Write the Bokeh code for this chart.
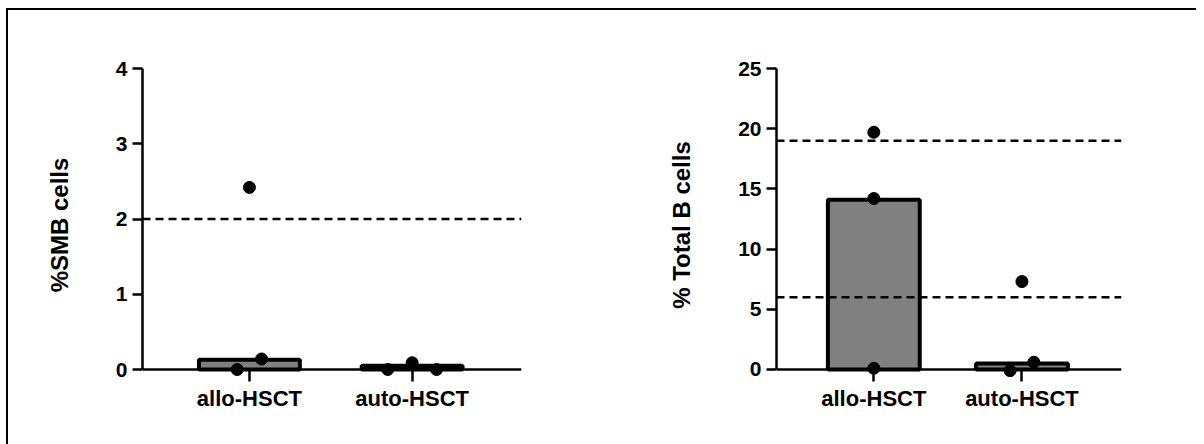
from bokeh.plotting import figure
from bokeh.models import Range1d, FixedTicker, Span
from bokeh.layouts import row
from bokeh.embed import file_html
from bokeh.resources import INLINE

categories = ["allo-HSCT", "auto-HSCT"]

# Panel 1: %SMB cells
smb_bars = [0.13, 0.05]
smb_allo_pts = [2.42, 0.14, 0.0]
smb_auto_pts = [0.0, 0.09, 0.0]
smb_ref = [2.0]
smb_ticks = [0, 1, 2, 3, 4]

# Panel 2: % Total B cells
tb_bars = [14.1, 0.5]
tb_allo_pts = [19.7, 14.2, 0.1]
tb_auto_pts = [7.3, 0.6, -0.1]
tb_ref = [19.0, 6.0]
tb_ticks = [0, 5, 10, 15, 20, 25]

# horizontal jitter of the points (positions, in category units)
jit_smb_allo = [0.0, 0.075, -0.075]
jit_smb_auto = [-0.15, 0.0, 0.15]
jit_tb_allo = [0.0, 0.0, 0.0]
jit_tb_auto = [0.0, 0.08, -0.08]

FONT = "Liberation Sans"


def make_panel(width, border_left, border_right, y_range, ticks, ylabel,
               bars, pts_list, jit_list, refs):
    p = figure(width=width, height=434, output_backend="svg", toolbar_location=None,
               x_range=Range1d(0.343, 2.672), y_range=y_range,
               min_border_left=border_left, min_border_right=border_right,
               min_border_top=58, min_border_bottom=63)
    p.outline_line_color = None
    p.grid.visible = False
    p.background_fill_color = "white"
    p.border_fill_color = "white"

    xs = [i + 1 for i in range(len(categories))]
    p.vbar(x=xs, top=bars, bottom=0, width=0.62, fill_color="#808080",
           line_color="black", line_width=4)
    for i, (pts, jit) in enumerate(zip(pts_list, jit_list)):
        px = [xs[i] + j for j in jit]
        p.scatter(px, pts, size=12, color="black")
    # baseline at zero
    p.add_layout(Span(location=0, dimension="width", line_color="black", line_width=2.5))
    for r in refs:
        p.add_layout(Span(location=r, dimension="width", line_color="black",
                          line_width=2.5, line_dash="8 5"))

    yax = p.yaxis[0]
    yax.ticker = FixedTicker(ticks=ticks)
    yax.bounds = (ticks[0], ticks[-1])
    yax.axis_line_width = 2.5
    yax.major_tick_line_width = 2.5
    yax.major_tick_in = 0
    yax.major_tick_out = 10
    yax.minor_tick_line_color = None
    yax.major_label_text_font = FONT
    yax.major_label_text_font_style = "bold"
    yax.major_label_text_font_size = "21px"
    yax.major_label_text_color = "black"
    yax.major_label_standoff = 5
    yax.axis_label = ylabel
    yax.axis_label_text_font = FONT
    yax.axis_label_text_font_style = "bold"
    yax.axis_label_text_font_size = "24px"
    yax.axis_label_text_color = "black"
    yax.axis_label_standoff = 40

    xax = p.xaxis[0]
    xax.ticker = FixedTicker(ticks=xs)
    xax.major_label_overrides = {x: c for x, c in zip(xs, categories)}
    xax.axis_line_color = None
    xax.major_tick_line_width = 2.5
    xax.major_tick_in = 12
    xax.major_tick_out = 0
    xax.minor_tick_line_color = None
    xax.major_label_text_font = FONT
    xax.major_label_text_font_style = "bold"
    xax.major_label_text_font_size = "22px"
    xax.major_label_text_color = "black"
    xax.major_label_standoff = 4
    return p


p1 = make_panel(592, 134, 79, Range1d(-0.159, 4.0), smb_ticks, "%SMB cells",
                smb_bars, [smb_allo_pts, smb_auto_pts], [jit_smb_allo, jit_smb_auto], smb_ref)
p2 = make_panel(596, 176, 75, Range1d(-1.0, 25.0), tb_ticks, "% Total B cells",
                tb_bars, [tb_allo_pts, tb_auto_pts], [jit_tb_allo, jit_tb_auto], tb_ref)

layout = row(p1, p2, styles={"border-top": "2px solid black",
                             "border-left": "2px solid black",
                             "border-right": "0px solid white",
                             "border-bottom": "0px solid white",
                             "margin-left": "6px",
                             "margin-top": "8px"})

open("out.html", "w").write(file_html(layout, INLINE))
